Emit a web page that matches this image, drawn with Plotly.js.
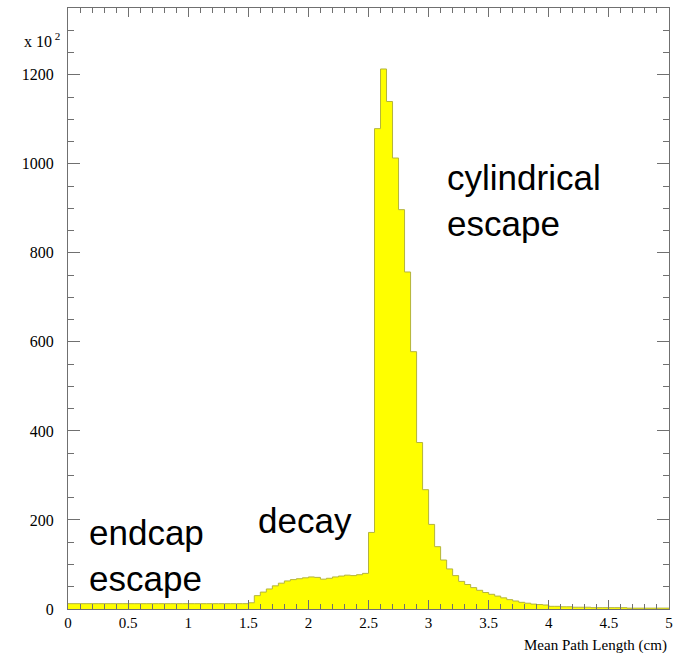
<!DOCTYPE html>
<html>
<head>
<meta charset="utf-8">
<script src="https://cdn.plot.ly/plotly-3.0.1.min.js"></script>
<style>html,body{margin:0;padding:0;background:#fff;}#chart{width:681px;height:653px;}</style>
</head>
<body>
<div id="chart"></div>
<script>
// Histogram of mean path length (cm), 100 bins of 0.05 cm from 0 to 5; counts in units of 10^2
var binStart = 0;
var binWidth = 0.05;
var counts = [
  // 0.00 - 1.50 (30 bins)
  12,12,12,12,12,12,12,12,12,12,
  12,12,12,12,12,12,12,12,12,12,
  12,12,12,12,12,12,12,12,12,12,
  // 1.50 - 2.50 (20 bins)
  14,30,38,45,52,58,63,66,68,70,
  72,71,67,69,72,74,76,75,77,80,
  // 2.50 - 3.00 (10 bins)
  172,1079,1213,1140,1013,897,757,578,374,268,
  // 3.00 - 3.50
  190,140,110,90,75,62,55,48,42,37,
  // 3.50 - 4.00
  33,29,25,21,18,15,13,11,10,9,
  // 4.00 - 4.50
  6,6,5,5,4,4,4,3,3,3,
  // 4.50 - 5.00
  3,3,3,2,2,2,2,2,2,2
];
var xTickVals = [0,0.5,1,1.5,2,2.5,3,3.5,4,4.5,5];
var xTickText = ["0","0.5","1","1.5","2","2.5","3","3.5","4","4.5","5"];
var yTickVals = [0,200,400,600,800,1000,1200];
var yTickText = ["0","200","400","600","800","1000","1200"];

// step outline built from bin edges
var xs = [], ys = [];
for (var i = 0; i < counts.length; i++) {
  xs.push(binStart + i * binWidth);
  ys.push(counts[i]);
}
xs.push(binStart + counts.length * binWidth);
ys.push(counts[counts.length - 1]);

var serif = "Liberation Serif, Times New Roman, serif";
var sans = "Liberation Sans, Arial, sans-serif";
var frameColor = "#707070";

var trace = {
  type: "scatter",
  mode: "lines",
  x: xs,
  y: ys,
  line: {shape: "hv", color: "#b4b43c", width: 1},
  fill: "tozeroy",
  fillcolor: "#ffff00",
  hoverinfo: "skip"
};

var axisCommon = {
  showline: true, mirror: "allticks", linecolor: frameColor, linewidth: 1,
  ticks: "inside", tickcolor: frameColor, zeroline: false, showgrid: false,
  tickfont: {family: serif, size: 15, color: "#000"}
};

var layout = {
  width: 681, height: 653,
  margin: {l: 68, r: 12, t: 8, b: 44},
  paper_bgcolor: "#fff", plot_bgcolor: "#fff",
  showlegend: false,
  xaxis: Object.assign({}, axisCommon, {
    range: [0, 5], tickmode: "array", tickvals: xTickVals, ticktext: xTickText,
    ticklen: 9, minor: {dtick: 0.1, ticks: "inside", ticklen: 5, tickcolor: frameColor}
  }),
  yaxis: Object.assign({}, axisCommon, {
    range: [0, 1350], tickmode: "array", tickvals: yTickVals, ticktext: yTickText,
    ticklen: 12, ticklabelstandoff: 10,
    tickfont: {family: serif, size: 16, color: "#000"},
    minor: {dtick: 50, ticks: "inside", ticklen: 6, tickcolor: frameColor}
  }),
  annotations: [
    {xref: "paper", yref: "paper", x: -0.01, y: 0.947, xanchor: "right", yanchor: "middle",
     text: "x 10<sup> 2</sup>", showarrow: false, font: {family: serif, size: 16, color: "#000"}},
    {xref: "paper", yref: "paper", x: 1, y: -0.06, xanchor: "right", yanchor: "middle",
     text: "Mean Path Length (cm)", showarrow: false, font: {family: serif, size: 15, color: "#000"}},
    {x: 3.14, y: 917, xanchor: "left", yanchor: "middle", align: "left", showarrow: false,
     text: "cylindrical<br>escape", font: {family: sans, size: 35, color: "#000"}},
    {x: 1.56, y: 198, xanchor: "left", yanchor: "middle", align: "left", showarrow: false,
     text: "decay", font: {family: sans, size: 35, color: "#000"}},
    {x: 0.16, y: 121, xanchor: "left", yanchor: "middle", align: "left", showarrow: false,
     text: "endcap<br>escape", font: {family: sans, size: 35, color: "#000"}}
  ]
};

Plotly.newPlot("chart", [trace], layout, {displayModeBar: false, staticPlot: true});
</script>
</body>
</html>
